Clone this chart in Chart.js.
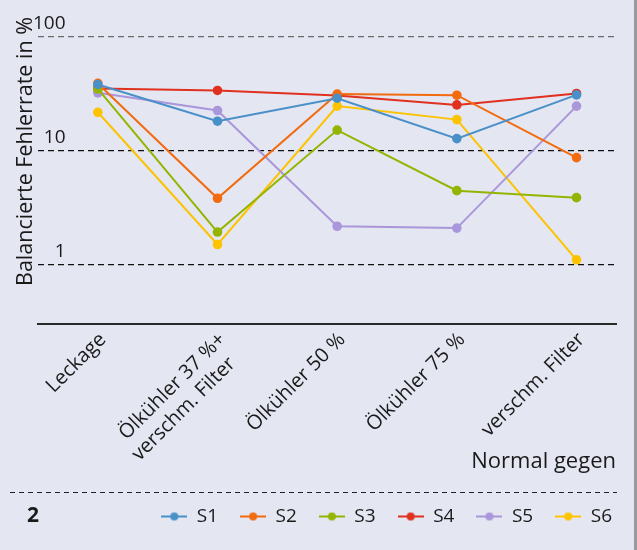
<!DOCTYPE html>
<html>
<head>
<meta charset="utf-8">
<script src="https://cdn.jsdelivr.net/npm/chart.js@4.4.0/dist/chart.umd.min.js"></script>
<style>
  html, body { margin: 0; padding: 0; background: #e4e6f2; }
  #wrap { width: 637px; height: 550px; position: relative; }
</style>
</head>
<body>
<div id="wrap"><canvas id="myChart" width="637" height="550"></canvas></div>
<script>
const categories = ["Leckage", ["Ölkühler 37 %+", "verschm. Filter  "], "Ölkühler 50 %", "Ölkühler 75 %", "verschm. Filter"];
const seriesNames = ["S1", "S2", "S3", "S4", "S5", "S6"];
const s1 = [38.3, 18.2, 29.0, 12.8, 31.0];
const s2 = [39.1, 3.82, 31.5, 30.8, 8.71];
const s3 = [35.0, 1.93, 15.2, 4.46, 3.87];
const s4 = [35.3, 33.9, 30.6, 25.3, 31.9];
const s5 = [32.3, 22.6, 2.17, 2.09, 24.7];
const s6 = [21.8, 1.50, 24.7, 18.8, 1.10];
const yTicks = [1, 10, 100];
const seriesColors = ["#4a90c8", "#f26b0f", "#95b400", "#e0301e", "#a996db", "#fdc300"];

const FONT = "'Open Sans', 'Noto Sans', sans-serif";
const allSeries = [s1, s2, s3, s4, s5, s6];

// small line-with-dot marker for the legend
function legendMarker(color) {
    const c = document.createElement("canvas");
    c.width = 26;
    c.height = 10;
    const g = c.getContext("2d");
    g.strokeStyle = color;
    g.lineWidth = 2;
    g.beginPath();
    g.moveTo(0, 5);
    g.lineTo(26, 5);
    g.stroke();
    g.fillStyle = color;
    g.beginPath();
    g.arc(13, 5, 4, 0, Math.PI * 2);
    g.fill();
    return c;
}

const datasets = allSeries.map((vals, i) => ({
    label: seriesNames[i],
    data: vals.map((v, j) => ({ x: j, y: v })),
    borderColor: seriesColors[i],
    backgroundColor: seriesColors[i],
    borderWidth: 2,
    pointRadius: 4.8,
    pointHoverRadius: 4.8,
    pointBorderWidth: 0,
    tension: 0,
}));

const decorations = {
    id: "decorations",
    beforeDraw(chart) {
        const ctx = chart.ctx;
        ctx.save();
        ctx.fillStyle = "#e4e6f2";
        ctx.fillRect(0, 0, chart.width, chart.height);
        ctx.restore();
    },
    afterLayout(chart) {
        chart.legend.right = 634;
    },
    afterDraw(chart) {
        const ctx = chart.ctx;
        ctx.save();
        ctx.strokeStyle = "#222";
        ctx.lineWidth = 1.2;
        ctx.setLineDash([5, 4]);
        ctx.beginPath();
        ctx.moveTo(10, 492.5);
        ctx.lineTo(617, 492.5);
        ctx.stroke();
        ctx.setLineDash([]);
        ctx.fillStyle = "#1a1a1a";
        ctx.font = "bold 21px " + FONT;
        ctx.textBaseline = "middle";
        ctx.fillText("2", 27, 516);
        ctx.fillStyle = "#9a9a9a";
        ctx.fillRect(634, 0, 3, chart.height);
        ctx.restore();
    }
};

const graph = document.getElementById("myChart").getContext("2d");
const myChart = new Chart(graph, {
    type: "line",
    data: { datasets: datasets },
    plugins: [decorations],
    options: {
        responsive: false,
        animation: false,
        layout: { padding: { left: 0, right: 21, top: 17, bottom: 14 } },
        plugins: {
            tooltip: { enabled: false },
            legend: {
                position: "bottom",
                align: "end",
                labels: {
                    usePointStyle: true,
                    pointStyleWidth: 26,
                    boxHeight: 10,
                    padding: 22,
                    color: "#1a1a1a",
                    font: { family: FONT, size: 19 },
                    generateLabels(chart) {
                        return chart.data.datasets.map((ds, i) => ({
                            text: ds.label,
                            fillStyle: ds.borderColor,
                            strokeStyle: ds.borderColor,
                            lineWidth: 0,
                            pointStyle: legendMarker(ds.borderColor),
                            fontColor: "#1a1a1a",
                            datasetIndex: i,
                            hidden: false,
                        }));
                    },
                },
            },
        },
        scales: {
            x: {
                type: "linear",
                min: -0.5,
                max: 4.33,
                afterBuildTicks(scale) {
                    scale.ticks = categories.map((c, i) => ({ value: i }));
                },
                afterFit(scale) {
                    scale.height = 161;
                },
                grid: { display: false, drawTicks: false },
                border: { display: true, color: "#2a2a2a", width: 2 },
                ticks: {
                    autoSkip: false,
                    minRotation: 45,
                    maxRotation: 45,
                    padding: 4,
                    labelOffset: 5,
                    color: "#1a1a1a",
                    font: { family: FONT, size: 20 },
                    callback: (value) => categories[value],
                },
                title: {
                    display: true,
                    align: "end",
                    text: "Normal gegen",
                    color: "#1a1a1a",
                    font: { family: FONT, size: 22 },
                    padding: { top: 0, bottom: 10 },
                },
            },
            y: {
                type: "logarithmic",
                min: 0.304,
                max: 150,
                afterBuildTicks(scale) {
                    scale.ticks = yTicks.map((v) => ({ value: v }));
                },
                afterFit(scale) {
                    scale.width = 38;
                },
                grid: {
                    drawTicks: false,
                    lineWidth: 1.3,
                    color: (c) => (c.tick && c.tick.value === 100 ? "#6a6a6a" : "#111"),
                },
                border: { display: false, dash: [6, 4] },
                ticks: {
                    mirror: true,
                    crossAlign: "far",
                    padding: -5,
                    labelOffset: -13,
                    color: "#1a1a1a",
                    font: { family: FONT, size: 19 },
                    callback: (v) => String(v),
                },
                title: {
                    display: true,
                    align: "end",
                    text: "Balancierte Fehlerrate in %",
                    color: "#1a1a1a",
                    font: { family: FONT, size: 21.5 },
                    padding: { top: 13, bottom: 0 },
                },
            },
        },
    },
});
</script>
</body>
</html>
